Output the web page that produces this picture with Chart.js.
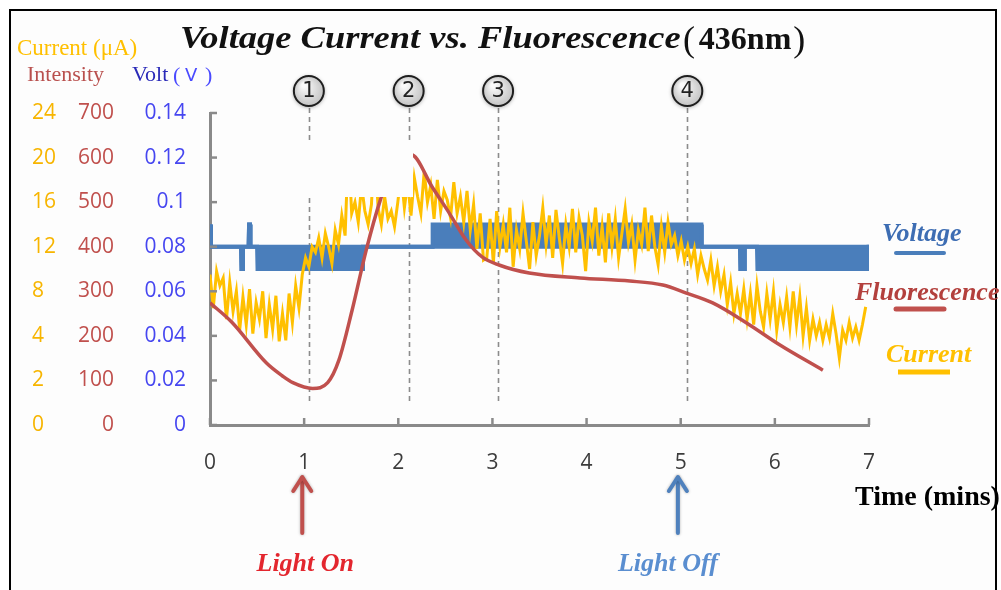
<!DOCTYPE html>
<html>
<head>
<meta charset="utf-8">
<script src="https://cdn.jsdelivr.net/npm/chart.js@4.4.0/dist/chart.umd.min.js"></script>
<style>
html, body { margin: 0; padding: 0; background: #fff; overflow: hidden; }
#frame { position: absolute; left: 9px; top: 9px; width: 984px; height: 600px; border: 2px solid #000; background: #fdfdfd; }
#c { position: absolute; left: 0; top: 0; }
</style>
</head>
<body>
<div id="frame"></div>
<canvas id="c" width="1001" height="590"></canvas>
<script>
// axis ticks
const xTicks = [0, 1, 2, 3, 4, 5, 6, 7];
const voltTickValues = [0, 0.02, 0.04, 0.06, 0.08, 0.1, 0.12, 0.14];
const voltTickLabels = ['0', '0.02', '0.04', '0.06', '0.08', '0.1', '0.12', '0.14'];
const intTickValues = [0, 100, 200, 300, 400, 500, 600, 700];
const intTickLabels = ['0', '100', '200', '300', '400', '500', '600', '700'];
// current axis labels are not evenly spaced in the source (0, 2, 4, 8 ...)
const curTickValues = [-4, 0, 4, 8, 12, 16, 20, 24];
const curTickLabels = ['0', '2', '4', '8', '12', '16', '20', '24'];

// fluorescence intensity (smooth curve)
const fluorTime = [0, 0.23, 0.6, 0.77, 0.88, 1.09, 1.25, 1.37, 1.51, 1.66, 1.81, 2.0, 2.15, 2.36, 2.54, 2.72, 2.89, 3.07, 3.39, 3.93, 4.46, 4.81, 5.06, 5.34, 5.70, 6.05, 6.51];
const fluorValues = [274, 231, 139, 110, 95, 82, 95, 146, 258, 393, 505, 610, 606, 534, 476, 415, 377, 359, 341, 330, 323, 314, 296, 274, 229, 180, 123];

// voltage: upper and lower edge of the toggling signal
const voltTime = [0, 0.01, 0.33, 0.335, 0.345, 0.35, 0.41, 0.415, 0.425, 0.43, 0.5, 0.505, 1.62, 1.625, 2.36, 2.365, 5.22, 5.225,
                  5.63, 5.635, 5.645, 5.65, 5.66, 5.665, 5.675, 5.68, 5.81, 5.815, 6.99, 6.995, 7.0];
const voltHigh = [0.09, 0.08, 0.08, 0.07, 0.07, 0.08, 0.08, 0.09, 0.09, 0.08, 0.08, 0.08, 0.08, 0.08, 0.08, 0.09, 0.09, 0.08,
                  0.08, 0.07, 0.07, 0.08, 0.08, 0.07, 0.07, 0.08, 0.08, 0.08, 0.08, 0.08, 0.08];
const voltLow  = [0.09, 0.08, 0.08, 0.07, 0.07, 0.08, 0.08, 0.09, 0.09, 0.08, 0.08, 0.07, 0.07, 0.08, 0.08, 0.08, 0.08, 0.08,
                  0.08, 0.07, 0.07, 0.08, 0.08, 0.07, 0.07, 0.08, 0.08, 0.07, 0.07, 0.08, 0.08];

// current (uA), one reading every curStep minutes
const curStep = 0.035;
const curValues = [
  9.5, 6.5, 9.8, 8.5, 9.2, 5.5, 8.8, 6.2, 8.0, 4.5, 7.5, 5.0, 8.2, 4.2, 7.0, 5.5, 8.0, 3.8, 6.8, 4.6, 7.6, 3.5, 6.0, 3.6, 7.8, 5.2, 8.5, 6.5,
  9.5, 11.0, 10.2, 12.0,
  11.5, 12.8, 11.0, 13.2, 12.0, 10.5, 13.5, 12.2, 14.8, 13.0,
  21.0, 15.0, 16.0, 14.2, 17.5, 15.2, 14.0, 15.8, 21.5, 15.5, 14.0, 16.5, 14.5, 15.2, 13.8,
  16.0, 18.5, 15.5, 17.8, 14.8, 18.2, 16.5, 15.0, 18.7, 16.0, 17.5, 14.5, 18.0, 15.2, 17.0, 16.2, 14.6, 17.8, 15.0, 16.5, 14.2, 17.0, 13.5, 15.8, 11.8, 15.0, 10.8,
  11.0, 14.5, 10.5, 15.2, 12.0, 14.0, 11.5, 15.5, 10.2, 13.5,
  11.8, 15.0, 12.5, 10.0, 14.2, 11.2, 13.0, 15.5, 12.2, 14.8,
  11.0, 15.3, 12.8, 10.5, 14.0, 12.0, 15.4, 11.5, 14.6, 13.0,
  9.8, 14.2, 12.5, 15.5, 11.2, 13.8, 10.6, 15.0, 12.0, 14.5,
  11.0, 13.2, 15.4, 12.4, 14.0, 10.8, 13.5, 12.2, 15.5, 11.6,
  14.8, 12.0, 10.4, 13.8, 11.5, 14.2, 12.2,
  13.0, 11.2, 12.5, 10.8, 12.0, 10.5, 11.8, 9.5, 11.2, 10.0, 9.0, 10.8, 8.5, 10.2, 8.0, 9.5, 6.8, 8.8, 6.0, 7.8,
  6.0, 8.2, 5.5, 7.8, 5.0, 8.5, 6.2, 4.8, 7.8, 5.5, 8.0, 4.5, 6.8, 5.2, 7.5, 4.8,
  8.0, 5.0, 7.5, 4.0, 6.5, 3.6, 5.5, 4.0, 5.2, 3.6, 5.0, 3.8, 6.0, 4.2, 2.0, 4.5, 3.6, 5.2, 3.8, 4.8, 3.6, 5.0, 6.6
];

// annotations
const markerTimes = [1.05, 2.11, 3.06, 5.07];
const markerLabels = ['1', '2', '3', '4'];
const lightTimes = [0.98, 4.97];
const lightLabels = ['Light On', 'Light Off'];
const titleMain = 'Voltage Current vs. Fluorescence';
const titleSub = '436nm';

const BLUE = '#4a7ebb', RED = '#c0504d', GOLD = '#ffc000', AXIS = '#8a8a8a';
const serif = '"Liberation Serif", "Times New Roman", serif';
const tickFont = { family: '"Open Sans", sans-serif', size: 21 };

const xy = (xs, ys) => xs.map((x, i) => ({ x: x, y: ys[i] }));

const decorations = {
  id: 'decorations',
  beforeDatasetsDraw(chart) {
    const { ctx, scales } = chart;
    ctx.save();
    ctx.strokeStyle = '#8c8c8c';
    ctx.lineWidth = 1.6;
    ctx.setLineDash([5, 4]);
    markerTimes.forEach(t => {
      const x = Math.round(scales.x.getPixelForValue(t)) + 0.5;
      ctx.beginPath(); ctx.moveTo(x, 108); ctx.lineTo(x, 405); ctx.stroke();
    });
    ctx.restore();
  },
  afterDatasetsDraw(chart) {
    const { ctx } = chart;
    // blank patch that sits over the data in the source picture
    ctx.save();
    ctx.fillStyle = '#fdfdfd';
    ctx.fillRect(263, 140, 150, 57);
    ctx.restore();
  },
  afterDraw(chart) {
    const { ctx, chartArea: a, scales } = chart;
    ctx.save();

    // inner tick marks
    ctx.strokeStyle = AXIS;
    ctx.lineWidth = 2.5;
    scales.yV.ticks.forEach((tk, i) => {
      const y = scales.yV.getPixelForTick(i);
      ctx.beginPath(); ctx.moveTo(a.left, y); ctx.lineTo(a.left + 7, y); ctx.stroke();
    });
    scales.x.ticks.forEach((tk, i) => {
      const x = scales.x.getPixelForTick(i);
      ctx.beginPath(); ctx.moveTo(x, a.bottom); ctx.lineTo(x, a.bottom - 7); ctx.stroke();
    });

    // title (source text is horizontally stretched)
    ctx.textBaseline = 'alphabetic';
    ctx.textAlign = 'left';
    ctx.fillStyle = '#111';
    ctx.save();
    ctx.translate(180, 0);
    ctx.scale(1.14, 1);
    let x = 0;
    ctx.font = 'italic bold 32px ' + serif;
    ctx.fillText(titleMain, x, 48);
    x += ctx.measureText(titleMain).width + 2;
    ctx.restore();
    x = 180 + x * 1.14;
    ctx.font = '36px ' + serif;
    ctx.fillText('(', x, 51);
    x += ctx.measureText('(').width + 4;
    ctx.font = 'bold 32px ' + serif;
    ctx.fillText(titleSub, x, 49);
    x += ctx.measureText(titleSub).width + 2;
    ctx.font = '36px ' + serif;
    ctx.fillText(')', x, 51);

    // axis headers
    ctx.font = '23px ' + serif;
    ctx.fillStyle = GOLD;
    ctx.fillText('Current (\u03bcA)', 17, 55);
    ctx.font = '22px ' + serif;
    ctx.fillStyle = '#b9504e';
    ctx.fillText('Intensity', 27, 81);
    ctx.fillStyle = '#2a2ab8';
    ctx.fillText('Volt', 132, 81);
    ctx.fillStyle = '#4a4aff';
    ctx.fillText('(', 173, 82);
    ctx.fillText(')', 205, 82);
    ctx.font = '18px "DejaVu Sans", sans-serif';
    ctx.fillText('V', 185, 81);

    // circled markers
    markerTimes.forEach((t, i) => {
      const cx = scales.x.getPixelForValue(t), cy = 91, r = 15;
      const g = ctx.createRadialGradient(cx - 5, cy - 6, 2, cx, cy, r);
      g.addColorStop(0, '#fafafa');
      g.addColorStop(1, '#c4c4c4');
      ctx.save();
      ctx.shadowColor = 'rgba(0,0,0,0.45)';
      ctx.shadowBlur = 4;
      ctx.shadowOffsetY = 1;
      ctx.beginPath(); ctx.arc(cx, cy, r, 0, Math.PI * 2);
      ctx.fillStyle = g; ctx.fill();
      ctx.restore();
      ctx.beginPath(); ctx.arc(cx, cy, r, 0, Math.PI * 2);
      ctx.strokeStyle = '#1e1e1e'; ctx.lineWidth = 2; ctx.stroke();
      ctx.fillStyle = '#222';
      ctx.font = '21px "DejaVu Sans", sans-serif';
      ctx.textAlign = 'center';
      ctx.textBaseline = 'middle';
      ctx.fillText(markerLabels[i], cx, cy + 1);
    });

    // legend on the right
    ctx.textAlign = 'left';
    ctx.textBaseline = 'alphabetic';
    ctx.font = 'italic bold 26px ' + serif;
    ctx.fillStyle = '#3d6db3';
    ctx.fillText('Voltage', 882, 241);
    ctx.fillStyle = '#b3403d';
    ctx.fillText('Fluorescence', 855, 300);
    ctx.fillStyle = GOLD;
    ctx.fillText('Current', 886, 362);
    ctx.lineWidth = 4;
    ctx.lineCap = 'round';
    ctx.strokeStyle = BLUE;
    ctx.beginPath(); ctx.moveTo(896, 253); ctx.lineTo(944, 253); ctx.stroke();
    ctx.strokeStyle = RED;
    ctx.lineWidth = 5;
    ctx.beginPath(); ctx.moveTo(896, 309); ctx.lineTo(944, 309); ctx.stroke();
    ctx.strokeStyle = GOLD;
    ctx.lineCap = 'butt';
    ctx.beginPath(); ctx.moveTo(898, 372); ctx.lineTo(950, 372); ctx.stroke();

    // x axis title
    ctx.fillStyle = '#000';
    ctx.font = 'bold 28px ' + serif;
    ctx.fillText('Time (mins)', 855, 505);

    // light on / off arrows
    const arrowCol = [RED, '#4f81bd'];
    const textCol = ['#e3262e', '#5a8ed0'];
    lightTimes.forEach((t, i) => {
      const ax = scales.x.getPixelForValue(t);
      ctx.save();
      ctx.shadowColor = 'rgba(0,0,0,0.3)';
      ctx.shadowBlur = 3;
      ctx.strokeStyle = arrowCol[i];
      ctx.lineWidth = 4;
      ctx.lineCap = 'round';
      ctx.lineJoin = 'round';
      ctx.beginPath(); ctx.moveTo(ax, 533); ctx.lineTo(ax, 478); ctx.stroke();
      ctx.beginPath(); ctx.moveTo(ax - 9, 491); ctx.lineTo(ax, 477); ctx.lineTo(ax + 9, 491); ctx.stroke();
      ctx.restore();
      ctx.fillStyle = textCol[i];
      ctx.font = 'italic bold 26px ' + serif;
      ctx.textAlign = 'center';
      ctx.fillText(lightLabels[i], ax + (i === 0 ? 3 : -10), 571);
    });

    ctx.restore();
  }
};

const hiddenGrid = { display: false, drawTicks: false };

new Chart(document.getElementById('c'), {
  type: 'line',
  data: {
    datasets: [
      {
        label: 'Fluorescence',
        data: xy(fluorTime, fluorValues),
        yAxisID: 'yInt',
        borderColor: RED,
        borderWidth: 3.5,
        pointRadius: 0,
        tension: 0.4,
        cubicInterpolationMode: 'monotone',
        order: 1
      },
      {
        label: 'Current',
        data: curValues.map((v, i) => ({ x: i * curStep, y: v })),
        yAxisID: 'yCur',
        borderColor: GOLD,
        borderWidth: 3,
        pointRadius: 0,
        tension: 0,
        order: 2
      },
      {
        label: 'Voltage',
        data: xy(voltTime, voltHigh),
        yAxisID: 'yV',
        borderColor: BLUE,
        borderWidth: 4,
        pointRadius: 0,
        tension: 0,
        fill: false,
        order: 3
      },
      {
        label: 'Voltage low',
        data: xy(voltTime, voltLow),
        yAxisID: 'yV',
        borderColor: BLUE,
        backgroundColor: BLUE,
        borderWidth: 4,
        pointRadius: 0,
        tension: 0,
        fill: '-1',
        order: 4
      }
    ]
  },
  options: {
    responsive: false,
    animation: false,
    layout: { padding: { left: 32, right: 132, top: 113, bottom: 0 } },
    plugins: { legend: { display: false }, tooltip: { enabled: false }, title: { display: false } },
    scales: {
      x: {
        type: 'linear', min: 0, max: 7,
        afterBuildTicks: s => { s.ticks = xTicks.map(v => ({ value: v })); },
        afterFit: s => { s.height = 165; },
        grid: { drawOnChartArea: false, drawTicks: false },
        border: { color: AXIS, width: 3 },
        ticks: { padding: 25, color: '#3c3c3c', font: tickFont }
      },
      yV: {
        position: 'left', weight: 0, min: 0, max: 0.14,
        afterBuildTicks: s => { s.ticks = voltTickValues.map(v => ({ value: v })); },
        afterFit: s => { s.width = 80; },
        grid: { drawOnChartArea: false, drawTicks: false },
        border: { color: AXIS, width: 3 },
        ticks: { padding: 24, color: '#4646f0', font: tickFont, callback: (v, i) => voltTickLabels[i] }
      },
      yInt: {
        position: 'left', weight: 1, min: 0, max: 700,
        afterBuildTicks: s => { s.ticks = intTickValues.map(v => ({ value: v })); },
        afterFit: s => { s.width = 68; },
        grid: hiddenGrid,
        border: { display: false },
        ticks: { padding: 16, color: '#c0504d', font: tickFont, callback: (v, i) => intTickLabels[i] }
      },
      yCur: {
        position: 'left', weight: 2, min: -4, max: 24,
        afterBuildTicks: s => { s.ticks = curTickValues.map(v => ({ value: v })); },
        afterFit: s => { s.width = 30; },
        grid: hiddenGrid,
        border: { display: false },
        ticks: { padding: 0, crossAlign: 'far', color: '#f7b500', font: tickFont, callback: (v, i) => curTickLabels[i] }
      }
    }
  },
  plugins: [decorations]
});
</script>
</body>
</html>
